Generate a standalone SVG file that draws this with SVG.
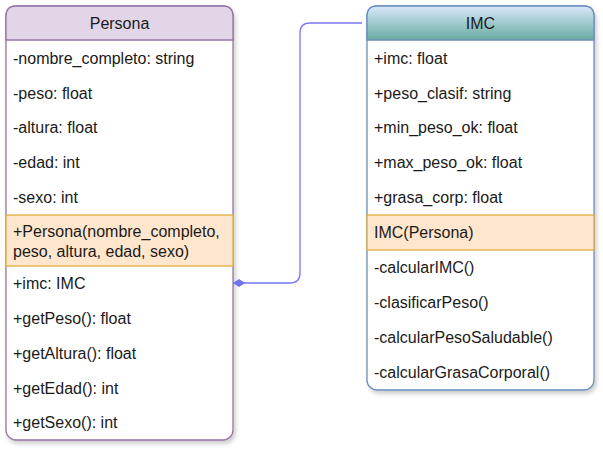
<svg xmlns="http://www.w3.org/2000/svg" width="603" height="450" viewBox="0 0 603 450">
<defs>
<linearGradient id="gImc" x1="0" y1="0" x2="0" y2="1">
<stop offset="0" stop-color="#dae8fc"/>
<stop offset="1" stop-color="#67ab9f"/>
</linearGradient>
<filter id="sh" x="-10%" y="-10%" width="130%" height="130%">
<feDropShadow dx="2" dy="3" stdDeviation="2" flood-color="#000" flood-opacity="0.2"/>
</filter>
<marker id="dia" viewBox="0 0 12 8" refX="0" refY="4" markerWidth="12" markerHeight="8" orient="auto" markerUnits="userSpaceOnUse">
<path d="M0,4 L6,0 L12,4 L6,8 Z" fill="#7070f0"/>
</marker>
</defs>
<style>
text{font-family:"Liberation Sans",Arial,sans-serif;font-size:16px;fill:#1a1a1a}
.t{text-anchor:middle;font-size:16px}
.ctor{fill:#ffe6cc;stroke:#e0ac3c;stroke-width:1.3}
.conn{fill:none;stroke:#7777ff;stroke-width:1.3}
</style>
<g id="Persona">
<rect x="6" y="6" width="227" height="434" rx="10" fill="#fff" stroke="#9673a6" stroke-width="1.3" filter="url(#sh)"/>
<path d="M6,40 V16 Q6,6 16,6 H223 Q233,6 233,16 V40 Z" fill="#e1d5e7" stroke="#9673a6" stroke-width="1.3"/>
<text class="t" x="119.5" y="29">Persona</text>
<text x="13" y="64">-nombre_completo: string</text>
<text x="13" y="99">-peso: float</text>
<text x="13" y="133">-altura: float</text>
<text x="13" y="168">-edad: int</text>
<text x="13" y="203">-sexo: int</text>
<rect class="ctor" x="6" y="215" width="227" height="51"/>
<text x="13" y="237">+Persona(nombre_completo,</text>
<text x="13" y="257">peso, altura, edad, sexo)</text>
<text x="13" y="289">+imc: IMC</text>
<text x="13" y="324">+getPeso(): float</text>
<text x="13" y="359">+getAltura(): float</text>
<text x="13" y="394">+getEdad(): int</text>
<text x="13" y="428">+getSexo(): int</text>
</g>
<g id="IMC">
<rect x="367" y="6" width="227" height="384" rx="10" fill="#fff" stroke="#6c8ebf" stroke-width="1.3" filter="url(#sh)"/>
<path d="M367,40 V16 Q367,6 377,6 H584 Q594,6 594,16 V40 Z" fill="url(#gImc)" stroke="#6c8ebf" stroke-width="1.3"/>
<text class="t" x="480.5" y="29">IMC</text>
<text x="374" y="64">+imc: float</text>
<text x="374" y="99">+peso_clasif: string</text>
<text x="374" y="133">+min_peso_ok: float</text>
<text x="374" y="168">+max_peso_ok: float</text>
<text x="374" y="203">+grasa_corp: float</text>
<rect class="ctor" x="367" y="215" width="227" height="35"/>
<text x="374" y="238">IMC(Persona)</text>
<text x="374" y="273">-calcularIMC()</text>
<text x="374" y="308">-clasificarPeso()</text>
<text x="374" y="343">-calcularPesoSaludable()</text>
<text x="374" y="378">-calcularGrasaCorporal()</text>
</g>
<g id="connectors">
<path class="conn" d="M233,283 H290 Q300,283 300,273 V33 Q300,23 310,23 H362" marker-start="url(#dia)"/>
</g>
</svg>
